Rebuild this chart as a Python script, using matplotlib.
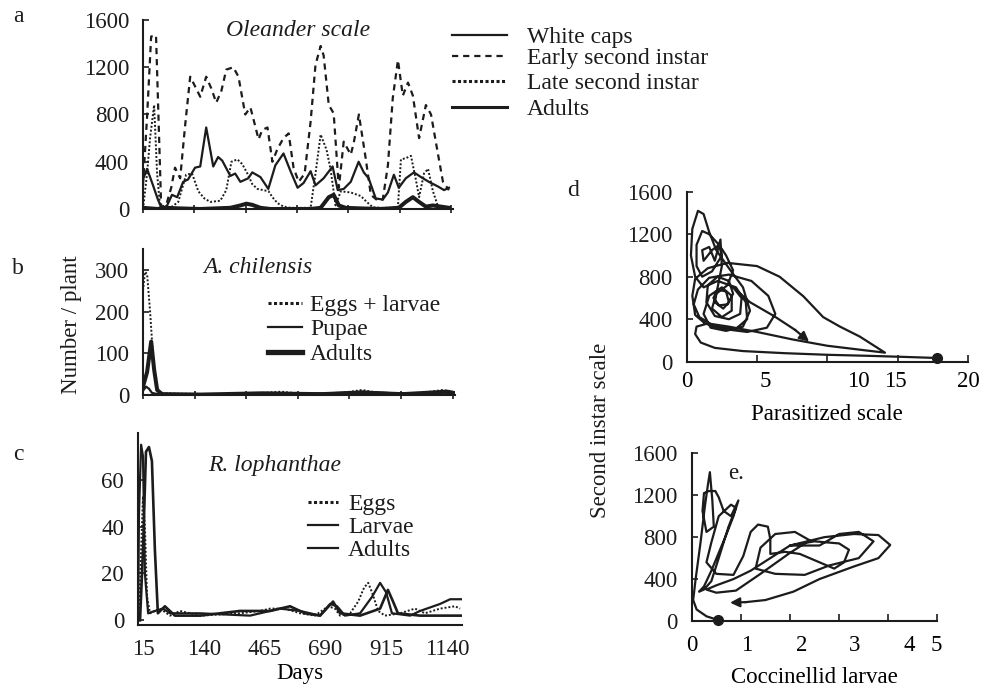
import numpy as np
import matplotlib
matplotlib.use('Agg')
import matplotlib.pyplot as plt
from matplotlib.lines import Line2D

plt.rcParams['font.family'] = ['Liberation Serif', 'DejaVu Serif']

# ---------------- data ----------------
# Panel a: Oleander scale (days, number/plant)
white_days = [15, 30, 52, 70, 85, 104, 122, 141, 163, 181, 207, 226, 248, 274, 292, 307, 337, 355, 374, 403,
              418, 448, 477, 503, 533, 559, 585, 607, 633, 651, 681, 714, 733, 755, 781, 810, 829, 847, 873, 899,
              918, 940, 958, 984, 1014, 1040, 1069, 1103, 1125, 1143]
white_vals = [250, 340, 200, 80, 0, 30, 120, 100, 230, 250, 350, 360, 690, 360, 440, 410, 280, 300, 230, 260,
              310, 270, 170, 370, 470, 320, 180, 220, 320, 200, 260, 360, 160, 170, 230, 400, 310, 260, 90, 80,
              140, 290, 180, 260, 310, 270, 230, 190, 160, 180]

early_days = [15, 30, 45, 63, 82, 100, 119, 133, 152, 170, 189, 211, 226, 248, 267, 285, 304, 322, 348, 367,
              392, 411, 429, 441, 455, 474, 492, 511, 533, 552, 570, 589, 611, 633, 651, 670, 681, 700, 718, 737,
              755, 781, 792, 811, 836, 855, 881, 899, 918, 936, 955, 973, 992, 1010, 1033, 1058, 1077, 1103, 1121, 1143]
early_vals = [200, 780, 1460, 1470, 20, 30, 180, 350, 260, 700, 1120, 1020, 950, 1120, 1020, 900, 1000, 1180, 1200, 1120,
              800, 860, 700, 590, 670, 690, 400, 510, 600, 640, 350, 230, 300, 740, 1220, 1380, 1300, 880, 810, 180,
              570, 460, 560, 800, 430, 120, 70, 80, 370, 940, 1260, 960, 1070, 960, 600, 880, 800, 460, 230, 160]

late_days = [15, 30, 41, 56, 67, 78, 96, 122, 145, 174, 196, 219, 241, 263, 300, 322, 341, 363, 381, 400,
             418, 437, 459, 478, 492, 511, 533, 559, 596, 633, 651, 670, 692, 707, 725, 744, 781, 818, 840, 862,
             892, 929, 955, 966, 984, 1003, 1021, 1033, 1051, 1066, 1084, 1103, 1132]
late_vals = [0, 300, 600, 880, 300, 20, 10, 20, 60, 290, 300, 150, 90, 60, 70, 160, 400, 420, 380, 300,
             210, 170, 160, 150, 100, 50, 20, 10, 10, 10, 300, 630, 500, 330, 30, 150, 140, 110, 60, 15,
             10, 10, 20, 420, 430, 450, 250, 100, 300, 340, 150, 20, 10]

adult_days = [15, 41, 70, 96, 152, 226, 337, 374, 396, 418, 448, 485, 633, 670, 700, 718, 737, 762, 818, 892,
              958, 984, 1010, 1033, 1058, 1084, 1114, 1143]
adult_vals = [10, 5, 0, 10, 5, 0, 10, 30, 45, 35, 10, 0, 0, 10, 100, 120, 30, 10, 5, 0,
              10, 60, 100, 60, 20, 30, 20, 10]

# Panel b: A. chilensis
ach_egg_days = [15, 22, 30, 41, 52, 63, 78, 152, 300, 448, 522, 596, 744, 818, 892, 1040, 1114, 1151]
ach_egg_vals = [250, 295, 290, 200, 90, 20, 5, 3, 2, 5, 8, 3, 5, 12, 4, 5, 12, 8]
ach_pupa_days = [15, 26, 37, 48, 70, 226, 448, 596, 781, 818, 966, 1114, 1151]
ach_pupa_vals = [10, 20, 15, 5, 2, 1, 3, 2, 6, 8, 3, 6, 4]
ach_adult_days = [15, 30, 45, 56, 67, 85, 226, 448, 670, 818, 966, 1132, 1155]
ach_adult_vals = [20, 55, 128, 60, 12, 2, 1, 4, 2, 6, 2, 8, 5]

# Panel c: R. lophanthae
rl_egg_days = [0, 8, 15, 22, 30, 41, 78, 115, 152, 226, 374, 448, 485, 540, 596, 651, 700, 725, 744, 781,
               811, 833, 848, 862, 885, 910, 966, 1021, 1058, 1114, 1169, 1188]
rl_egg_vals = [0, 30, 53, 40, 10, 3, 5, 2, 4, 2, 3, 4, 5, 5, 3, 2, 6, 5, 2, 3,
               8, 14, 16, 12, 4, 2, 3, 5, 3, 5, 6, 5]
rl_larva_days = [-3, 0, 8, 15, 22, 34, 59, 89, 115, 226, 411, 522, 596, 670, 707, 733, 762, 818, 862, 892,
                 914, 936, 1003, 1040, 1114, 1151, 1195]
rl_larva_vals = [0, 45, 75, 70, 20, 3, 4, 5, 3, 3, 2, 5, 4, 2, 7, 6, 2, 3, 10, 16,
                 12, 3, 2, 4, 7, 9, 9]
rl_adult_days = [4, 15, 26, 37, 48, 59, 70, 96, 133, 226, 374, 485, 559, 614, 670, 718, 744, 818, 892, 921,
                 940, 958, 1040, 1114, 1195]
rl_adult_vals = [0, 30, 72, 74, 68, 30, 3, 6, 2, 2, 4, 4, 6, 3, 2, 8, 3, 2, 5, 13,
                 8, 3, 2, 2, 2]

# Panel d: second instar scale vs parasitized scale (trajectory)
d_x = [17.8, 15.5, 13, 10, 7, 4, 2, 1, 0.6, 0.7, 1.5, 3, 5, 7.5, 10, 12.5, 14.1, 12.3, 10.9, 9.7,
       8.3, 6.6, 5, 2.9, 1.5, 0.6, 0.4, 0.6, 1.3, 2.5, 4.3, 5.7, 6.3, 5.8, 4.6, 3, 1.6, 0.8, 0.5, 0.9,
       2, 3.5, 4.3, 4.2, 3.5, 2.2, 1.2, 0.6, 0.3, 0.4, 0.8, 1.2, 1.6, 2.1, 3, 4, 4.5, 4, 2.8, 1.7,
       1.2, 1.6, 2.5, 3.2, 3.2, 2.5, 1.8, 2.1, 2.9, 3.3, 2.8, 2.3, 1.6, 1.1, 0.7, 0.7, 1.1, 1.8, 2.5, 2.3,
       1.8, 1.2, 1.1, 1.6, 2, 2.4, 2.5, 2.2, 2.0, 2.6, 3.0, 2.8, 2.2, 1.9, 2.3, 2.9, 3.3, 3.0, 2.2, 1.5,
       1.4, 2.0, 3.0, 3.8, 3.9, 3.3, 4.5, 6.2, 7.7, 8.7]
d_y = [35, 45, 55, 65, 80, 100, 130, 180, 260, 330, 360, 330, 280, 210, 150, 110, 85, 237, 330, 420,
       615, 800, 900, 930, 880, 780, 620, 440, 360, 310, 280, 320, 450, 620, 760, 820, 790, 680, 540, 420,
       330, 310, 400, 560, 700, 760, 700, 800, 1000, 1250, 1420, 1390, 1220, 1050, 880, 700, 480, 330, 290, 320,
       450, 620, 700, 620, 480, 420, 500, 640, 720, 860, 1000, 1100, 1200, 1230, 1100, 900, 800, 850, 1000, 1100,
       1050, 950, 1050, 1080, 950, 1150, 900, 700, 560, 500, 560, 660, 680, 600, 530, 540, 640, 760, 800, 720,
       560, 430, 400, 450, 600, 700, 560, 430, 300, 190]

# Panel e: second instar scale vs coccinellid larvae (trajectory)
e_x = [0.53, 0.3, 0.1, 0.03, 0.08, 0.18, 0.27, 0.33, 0.37, 0.42, 0.45, 0.3, 0.22, 0.25, 0.35, 0.48, 0.55, 0.65, 0.8, 0.95,
       0.85, 0.7, 0.55, 0.4, 0.25, 0.15, 0.25, 0.4, 0.55, 0.75, 0.9, 0.8, 0.55, 0.4, 0.3, 0.5, 0.85, 1.05, 1.2, 1.35,
       1.55, 1.6, 1.6, 1.9, 2.2, 2.6, 2.9, 3.1, 3.2, 3.0, 2.5, 2.0, 1.6, 1.2, 0.85, 0.5, 0.3, 0.5, 0.9, 1.4,
       2.0, 2.4, 2.1, 1.7, 1.4, 1.3, 1.7, 2.3, 2.8, 3.4, 3.7, 3.4, 3.0, 2.6, 2.0, 2.7, 3.3, 3.8, 4.04, 3.8,
       3.3, 2.6, 2.07, 1.5, 1.1, 0.78]
e_y = [10, 45, 110, 200, 400, 750, 1100, 1300, 1420, 1150, 900, 850, 1050, 1220, 1240, 1240, 1180, 1050, 1000, 1150,
       1000, 820, 650, 480, 330, 280, 300, 380, 600, 900, 1080, 1110, 1000, 750, 560, 450, 440, 620, 850, 920,
       900, 780, 640, 660, 640, 560, 500, 560, 680, 740, 760, 720, 600, 480, 400, 340, 300, 270, 290, 450,
       650, 770, 850, 830, 700, 500, 450, 440, 530, 600, 760, 850, 830, 720, 720, 800, 830, 820, 725, 600,
       520, 400, 280, 200, 180, 175]

a_title = 'Oleander scale'
b_title = 'A. chilensis'
c_title = 'R. lophanthae'
a_labels = ['White caps', 'Early second instar', 'Late second instar', 'Adults']
b_labels = ['Eggs + larvae', 'Pupae', 'Adults']
c_labels = ['Eggs', 'Larvae', 'Adults']
c_tick_days = [15, 240, 465, 690, 915, 1140]
c_tick_labels = ['15', '140', '465', '690', '915', '1140']
d_tick_labels = ['0', '5', '10', '15', '20']
e_tick_labels = ['0', '1', '2', '3', '4', '5']

# ---------------- styles ----------------
K = '#1c1c1c'
thin = dict(color=K, lw=1.6, ls='-')
thick = dict(color=K, lw=2.9, ls='-')
dashed = dict(color=K, lw=1.6, ls=(0, (2.8, 2.2)))
dotted = dict(color=K, lw=1.4, ls=(0, (1, 1)))
FS = 16.5
LFS = 17

W, H = 992, 691
fig = plt.figure(figsize=(W / 100, H / 100), dpi=100)


def rect(l, t, r, b):
    return [l / W, 1 - b / H, (r - l) / W, (b - t) / H]


def style(ax):
    for s in ('top', 'right'):
        ax.spines[s].set_visible(False)
    for s in ('left', 'bottom'):
        ax.spines[s].set_linewidth(1.5)
        ax.spines[s].set_color(K)
    ax.xaxis.remove_overlapping_locs = False
    ax.tick_params(axis='both', labelsize=FS, colors=K, width=1.2)
    ax.tick_params(axis='y', direction='in', length=4, pad=10)
    ax.tick_params(axis='x', direction='inout', length=6, pad=9)


def legend_rows(x0, x1, xt, rows, fs):
    for y, st, lab in rows:
        fig.add_artist(Line2D([x0 / W, x1 / W], [1 - y / H] * 2, transform=fig.transFigure, **st))
        fig.text(xt / W, 1 - y / H, lab, va='center_baseline', ha='left', fontsize=fs, color=K)


legdot = dict(color=K, lw=2.2, ls=(0, (1, 0.8)))

# ---- panel a ----
axa = fig.add_axes(rect(143, 20, 453, 209))
style(axa)
axa.plot(white_days, white_vals, **thin)
axa.plot(early_days, early_vals, **dashed)
axa.plot(late_days, late_vals, **dotted)
axa.plot(adult_days, adult_vals, **thick)
axa.set_xlim(15, 1158)
axa.set_ylim(0, 1600)
axa.set_yticks([0, 400, 800, 1200, 1600])
axa.set_xticks(np.linspace(15, 1151, 7), labels=[])
fig.text(298 / W, 1 - 30 / H, a_title, fontsize=LFS, style='italic', ha='center', va='center', color=K)
legend_rows(452, 507, 527,
            [(35, thin, a_labels[0]), (56, dashed, a_labels[1]),
             (81, legdot, a_labels[2]), (107, dict(color=K, lw=2.2), a_labels[3])], LFS)

# ---- panel b ----
axb = fig.add_axes(rect(143, 249, 455, 395))
style(axb)
axb.plot(ach_egg_days, ach_egg_vals, **dotted)
axb.plot(ach_pupa_days, ach_pupa_vals, **thin)
axb.plot(ach_adult_days, ach_adult_vals, **thick)
axb.set_xlim(15, 1160)
axb.set_ylim(0, 350)
axb.set_yticks([0, 100, 200, 300])
axb.set_xticks(np.linspace(15, 1151, 7), labels=[])
legend_rows(268, 302, 310,
            [(303, legdot, b_labels[0]), (327, thin, b_labels[1]),
             (352, dict(color=K, lw=3.8), b_labels[2])], LFS)

# ---- panel c ----
axc = fig.add_axes(rect(138, 433, 462, 625))
style(axc)
axc.plot(rl_egg_days, rl_egg_vals, **dotted)
axc.plot(rl_larva_days, rl_larva_vals, **thin)
axc.plot(rl_adult_days, rl_adult_vals, color=K, lw=1.9)
axc.set_xlim(-3.5, 1195)
axc.set_ylim(-2, 80)
axc.set_yticks([0, 20, 40, 60])
axc.set_xticks(c_tick_days, labels=c_tick_labels)
axc.tick_params(axis='x', length=0, pad=10)
axc.set_xlabel('Days', fontsize=FS, labelpad=2)
legend_rows(308, 338, 348,
            [(502, legdot, c_labels[0]), (525, thin, c_labels[1]),
             (548, thin, c_labels[2])], LFS)

# ---- panel d ----
axd = fig.add_axes(rect(686.7, 191.7, 968, 361.7))
style(axd)
axd.plot(d_x[:-1], d_y[:-1], color=K, lw=1.6, clip_on=False)
axd.annotate('', xy=(d_x[-1], d_y[-1]), xytext=(d_x[-2], d_y[-2]),
             arrowprops=dict(arrowstyle='-|>', color=K, lw=1.6, mutation_scale=14, shrinkA=0, shrinkB=0))
axd.plot(d_x[0], d_y[0], 'o', color=K, ms=7, clip_on=False)
axd.set_xlim(0, 20)
axd.set_ylim(0, 1600)
axd.set_yticks([0, 400, 800, 1200, 1600])
axd.set_xticks([0, 5, 10, 15, 20], labels=[])
axd.set_xticks([0, 5.6, 12.2, 14.8, 20], labels=d_tick_labels, minor=True)
axd.tick_params(axis='x', which='major', direction='in', length=5)
axd.tick_params(axis='x', which='minor', length=0, pad=7, labelsize=FS)
axd.set_xlabel('Parasitized scale', fontsize=FS, labelpad=8)

# ---- panel e ----
axe = fig.add_axes(rect(691.7, 453.3, 937.4, 621))
style(axe)
axe.plot(e_x[:-1], e_y[:-1], color=K, lw=1.6, clip_on=False)
axe.annotate('', xy=(e_x[-1], e_y[-1]), xytext=(e_x[-2], e_y[-2]),
             arrowprops=dict(arrowstyle='-|>', color=K, lw=1.6, mutation_scale=14, shrinkA=0, shrinkB=0))
axe.plot(e_x[0], e_y[0], 'o', color=K, ms=7, clip_on=False)
axe.set_xlim(0, 5)
axe.set_ylim(0, 1600)
axe.set_yticks([0, 400, 800, 1200, 1600])
axe.set_xticks([0, 1, 2, 3, 4, 5], labels=[])
axe.set_xticks([0, 1.12, 2.24, 3.32, 4.42, 4.97], labels=e_tick_labels, minor=True)
axe.tick_params(axis='x', which='major', direction='in', length=5)
axe.tick_params(axis='x', which='minor', length=0, pad=10, labelsize=FS)
axe.set_xlabel('Coccinellid larvae', fontsize=FS, labelpad=8)
axe.text(0.75, 1410, 'e.', fontsize=FS, ha='left', va='center', color=K)

# ---- shared labels ----
fig.text(18 / W, 1 - 17 / H, 'a', fontsize=LFS, ha='center', va='center', color=K)
fig.text(18 / W, 1 - 268 / H, 'b', fontsize=LFS, ha='center', va='center', color=K)
fig.text(18 / W, 1 - 455 / H, 'c', fontsize=LFS, ha='center', va='center', color=K)
fig.text(573 / W, 1 - 190 / H, 'd', fontsize=LFS, ha='center', va='center', color=K)
fig.text(258 / W, 1 - 267 / H, b_title, fontsize=LFS, style='italic', ha='center', va='center', color=K)
fig.text(275 / W, 1 - 465 / H, c_title, fontsize=LFS, style='italic', ha='center', va='center', color=K)
fig.text(72 / W, 1 - 325 / H, 'Number / plant', fontsize=FS, rotation=90, ha='center', va='center', color=K)
fig.text(601 / W, 1 - 430 / H, 'Second instar scale', fontsize=FS, rotation=90, ha='center', va='center', color=K)

fig.savefig('out.png', dpi=100)
